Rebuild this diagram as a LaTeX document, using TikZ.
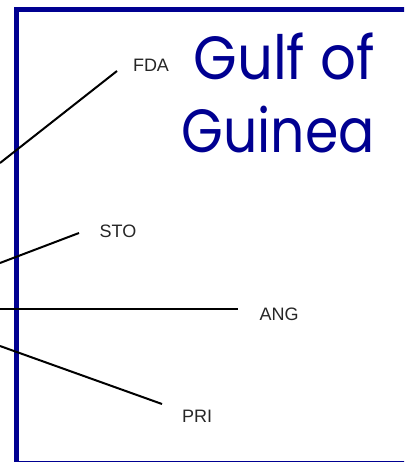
\documentclass[tikz,border=0pt]{standalone}
\usepackage{fontspec}
\setmainfont{Liberation Sans}
\newfontfamily\titlefont{Poppins}
\definecolor{gulfblue}{RGB}{0,0,145}
\begin{document}
\begin{tikzpicture}[x=1pt,y=-1pt,
  lbl/.style={font=\fontsize{18}{20}\selectfont, text=black!85, inner sep=0pt},
  ttl/.style={font=\titlefont\fontsize{61}{66}\selectfont, text=gulfblue, inner sep=0pt, anchor=base east},
  conn/.style={line width=2pt, black},
  frame/.style={line width=5pt, gulfblue}]
\useasboundingbox (0,0) rectangle (404,462);
\clip (0,0) rectangle (404,462);
\draw[frame] (16.5,462.5) -- (16.5,9.5) -- (406,9.5);
\draw[frame] (14,463) -- (406,463);
% labels
\node[lbl] (FDA) at (151,65) {FDA};
\node[lbl] (STO) at (118,231) {STO};
\node[lbl] (ANG) at (279,314) {ANG};
\node[lbl] (PRI) at (197,416) {PRI};
% title
\node[ttl] (t1) at (375,80) {\scalebox{0.92}[1]{Gulf of}};
\node[ttl] (t2) at (375,153) {\scalebox{0.88}[1]{Guinea}};
% connectors
\coordinate (fdaL) at (0,163);
\coordinate (fdaR) at (117,71);
\coordinate (stoL) at (0,263);
\coordinate (stoR) at (79,233);
\coordinate (angL) at (0,309);
\coordinate (angR) at (238,309);
\coordinate (priL) at (0,346);
\coordinate (priR) at (162,404);
\draw[conn] (fdaL) -- (fdaR);
\draw[conn] (stoL) -- (stoR);
\draw[conn] (angL) -- (angR);
\draw[conn] (priL) -- (priR);
\end{tikzpicture}
\end{document}
